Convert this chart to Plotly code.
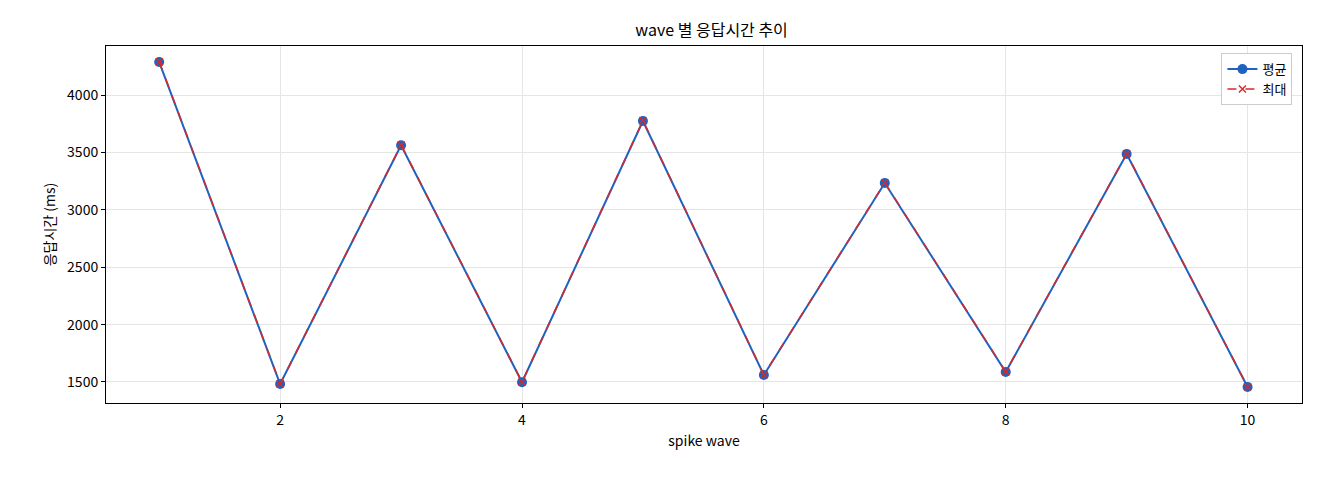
import plotly.graph_objects as go

waves = [1, 2, 3, 4, 5, 6, 7, 8, 9, 10]
avg_ms = [4287, 1482, 3562, 1498, 3774, 1561, 3233, 1587, 3486, 1456]
max_ms = [4290, 1484, 3565, 1500, 3777, 1563, 3236, 1589, 3489, 1458]

font = "Noto Sans CJK KR"
fig = go.Figure()
fig.add_trace(go.Scatter(x=waves, y=avg_ms, name="평균", mode="lines+markers",
                         line=dict(color="#1f62c0", width=2),
                         marker=dict(symbol="circle", size=10, color="#1f62c0")))
fig.add_trace(go.Scatter(x=waves, y=max_ms, name="최대", mode="lines+markers",
                         line=dict(color="#d62a2a", width=1.5, dash="dash"),
                         marker=dict(symbol="x-thin", size=7, line=dict(width=1.5, color="#d62a2a"))))

axis = dict(showline=True, mirror=True, linecolor="black", linewidth=1,
            gridcolor="#e5e5e5", ticks="outside", ticklen=4, tickcolor="black",
            zeroline=False, tickfont=dict(size=14, color="black"))
fig.update_layout(
    width=1320, height=480, plot_bgcolor="white", paper_bgcolor="white",
    margin=dict(l=98, r=26, t=38, b=85),
    font=dict(family=font, color="black", size=13),
    title=dict(text="wave 별 응답시간 추이", x=0.533, xanchor="center", y=0.965, font=dict(size=16)),
    xaxis=dict(axis, range=[0.56, 10.45], tickvals=[2, 4, 6, 8, 10],
               title=dict(text="spike wave", font=dict(size=14), standoff=8)),
    yaxis=dict(axis, range=[1317, 4427], tickvals=[1500, 2000, 2500, 3000, 3500, 4000],
               title=dict(text="응답시간 (ms)", font=dict(size=14), standoff=8)),
    legend=dict(x=0.992, y=0.98, xanchor="right", yanchor="top", bordercolor="#cccccc",
                borderwidth=1, bgcolor="white", font=dict(size=13)),
)
fig.write_html("out.html")
